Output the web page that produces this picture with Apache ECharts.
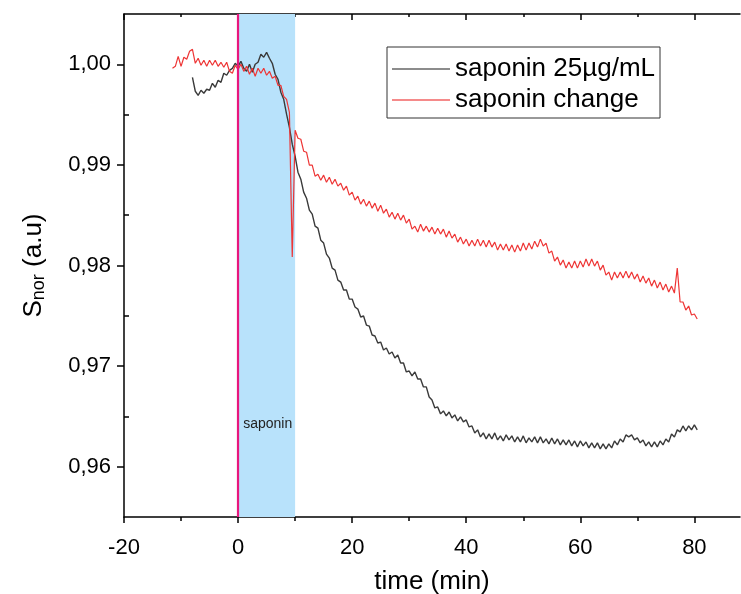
<!DOCTYPE html>
<html>
<head>
<meta charset="utf-8">
<script src="https://cdn.jsdelivr.net/npm/echarts@6/dist/echarts.min.js"></script>
<style>
  html, body { margin: 0; padding: 0; background: #fff; }
  #chart { width: 741px; height: 594px; }
</style>
</head>
<body>
<div id="chart"></div>
<script>
// Normalised signal S_nor versus time; saponin added during 0–10 min.
const xMajorTicks = [-20, 0, 20, 40, 60, 80];
const xMinorTicks = [-10, 10, 30, 50, 70];
const yMajorTicks = [0.96, 0.97, 0.98, 0.99, 1.00];
const yMinorTicks = [0.965, 0.975, 0.985, 0.995];

const seriesNames = ['saponin 25µg/mL', 'saponin change'];

// Sampling: one reading every 0.5 min, starting at the given time.
const blackStart = -8.0;
const redStart = -11.5;
const sampleStep = 0.5;

const blackValues = [
  0.99871, 0.99732, 0.99692, 0.99742, 0.99712, 0.99752, 0.99742, 0.99811, 0.99772, 0.99841,
  0.99821, 0.99911, 0.99891, 0.99940, 0.99960, 1.00010, 0.99980, 1.00030, 0.99960, 0.99930,
  1.00000, 0.99921, 1.00000, 1.00020, 1.00099, 1.00070, 1.00119, 1.00060, 1.00010, 0.99901,
  0.99851, 0.99722, 0.99652, 0.99504, 0.99374, 0.99206, 0.99086, 0.98928, 0.98858, 0.98729,
  0.98669, 0.98550, 0.98511, 0.98391, 0.98371, 0.98252, 0.98223, 0.98113, 0.98074, 0.97974,
  0.97954, 0.97855, 0.97835, 0.97756, 0.97756, 0.97666, 0.97666, 0.97587, 0.97567, 0.97488,
  0.97498, 0.97408, 0.97398, 0.97309, 0.97299, 0.97230, 0.97239, 0.97160, 0.97180, 0.97120,
  0.97140, 0.97081, 0.97110, 0.97031, 0.97031, 0.96942, 0.96951, 0.96902, 0.96942, 0.96872,
  0.96872, 0.96793, 0.96793, 0.96693, 0.96664, 0.96584, 0.96594, 0.96525, 0.96554, 0.96505,
  0.96544, 0.96485, 0.96515, 0.96455, 0.96495, 0.96445, 0.96465, 0.96395, 0.96405, 0.96336,
  0.96366, 0.96296, 0.96336, 0.96276, 0.96326, 0.96276, 0.96336, 0.96266, 0.96306, 0.96256,
  0.96316, 0.96266, 0.96306, 0.96246, 0.96296, 0.96246, 0.96306, 0.96237, 0.96286, 0.96246,
  0.96296, 0.96237, 0.96296, 0.96237, 0.96276, 0.96227, 0.96286, 0.96227, 0.96276, 0.96217,
  0.96266, 0.96217, 0.96266, 0.96207, 0.96256, 0.96197, 0.96256, 0.96207, 0.96246, 0.96187,
  0.96237, 0.96187, 0.96237, 0.96177, 0.96227, 0.96177, 0.96227, 0.96187, 0.96256, 0.96217,
  0.96276, 0.96246, 0.96316, 0.96296, 0.96316, 0.96266, 0.96286, 0.96237, 0.96266, 0.96207,
  0.96246, 0.96197, 0.96246, 0.96197, 0.96256, 0.96217, 0.96276, 0.96246, 0.96326, 0.96296,
  0.96366, 0.96346, 0.96405, 0.96356, 0.96405, 0.96366, 0.96415, 0.96366
];

const redValues = [
  0.99960, 0.99980, 1.00079, 0.99980, 1.00070, 1.00050, 1.00129, 1.00149, 1.00010, 1.00060,
  0.99990, 1.00040, 0.99980, 1.00040, 0.99990, 1.00040, 0.99980, 1.00020, 0.99970, 1.00020,
  0.99930, 0.99911, 0.99990, 0.99950, 1.00000, 0.99930, 0.99980, 0.99901, 0.99960, 0.99881,
  0.99960, 0.99911, 0.99960, 0.99891, 0.99930, 0.99861, 0.99881, 0.99791, 0.99791, 0.99682,
  0.99652, 0.99523, 0.98084, 0.99345, 0.99265, 0.99255, 0.99136, 0.99126, 0.98997, 0.98997,
  0.98888, 0.98908, 0.98848, 0.98898, 0.98828, 0.98878, 0.98808, 0.98858, 0.98789, 0.98818,
  0.98749, 0.98789, 0.98699, 0.98729, 0.98650, 0.98689, 0.98610, 0.98659, 0.98590, 0.98640,
  0.98570, 0.98620, 0.98540, 0.98600, 0.98520, 0.98560, 0.98481, 0.98530, 0.98461, 0.98520,
  0.98451, 0.98501, 0.98421, 0.98461, 0.98362, 0.98391, 0.98332, 0.98411, 0.98342, 0.98391,
  0.98332, 0.98381, 0.98312, 0.98371, 0.98312, 0.98362, 0.98282, 0.98342, 0.98272, 0.98312,
  0.98232, 0.98282, 0.98213, 0.98262, 0.98193, 0.98252, 0.98193, 0.98262, 0.98193, 0.98252,
  0.98183, 0.98252, 0.98183, 0.98232, 0.98153, 0.98213, 0.98153, 0.98213, 0.98143, 0.98203,
  0.98133, 0.98203, 0.98143, 0.98223, 0.98153, 0.98223, 0.98163, 0.98242, 0.98183, 0.98262,
  0.98193, 0.98223, 0.98123, 0.98143, 0.98044, 0.98084, 0.98004, 0.98054, 0.97974, 0.98034,
  0.97974, 0.98044, 0.97974, 0.98044, 0.97984, 0.98064, 0.97994, 0.98064, 0.97994, 0.98044,
  0.97954, 0.98004, 0.97905, 0.97935, 0.97855, 0.97935, 0.97875, 0.97935, 0.97875, 0.97944,
  0.97875, 0.97935, 0.97865, 0.97915, 0.97835, 0.97895, 0.97825, 0.97875, 0.97795, 0.97855,
  0.97776, 0.97835, 0.97756, 0.97815, 0.97736, 0.97795, 0.97726, 0.97974, 0.97637, 0.97637,
  0.97557, 0.97597, 0.97508, 0.97518, 0.97468
];

// Injection window and its label
const injectionStart = 0;
const injectionEnd = 10;
const injectionLabel = 'saponin';

function toPairs(start, values) {
  return values.map((v, i) => [start + i * sampleStep, v]);
}

const FONT = '"Liberation Sans", Arial, sans-serif';
const fmtComma = v => v.toFixed(2).replace('.', ',');

const chart = echarts.init(document.getElementById('chart'), null, { renderer: 'canvas' });

const xRange = { min: -20, max: 88 };
const yRange = { min: 0.955, max: 1.005 };
const tickLine = { color: '#000', width: 1.5 };

chart.setOption({
  animation: false,
  backgroundColor: '#fff',
  grid: { left: 124, right: 1, top: 14, bottom: 77, containLabel: false, outerBoundsMode: 'none' },
  legend: {
    orient: 'vertical',
    left: 387,
    top: 47,
    padding: [8, 5, 4, 5],
    itemGap: 3,
    itemWidth: 58,
    itemHeight: 2,
    icon: 'rect',
    borderColor: '#333',
    borderWidth: 1,
    textStyle: { fontFamily: FONT, fontSize: 26, color: '#000', lineHeight: 28 },
    data: [
      { name: seriesNames[0], itemStyle: { color: '#8c8c8c' } },
      { name: seriesNames[1], itemStyle: { color: '#f58a8a' } }
    ]
  },
  xAxis: [
    {
      type: 'value', position: 'bottom', ...xRange,
      axisLine: { show: true, onZero: false, lineStyle: tickLine },
      axisTick: { show: true, inside: false, length: 6, customValues: xMajorTicks, lineStyle: tickLine },
      axisLabel: { show: true, customValues: xMajorTicks, margin: 20, fontFamily: FONT, fontSize: 22, color: '#000' },
      splitLine: { show: false },
      name: 'time (min)', nameLocation: 'middle', nameGap: 52,
      nameTextStyle: { fontFamily: FONT, fontSize: 26, color: '#000' }
    },
    {
      type: 'value', position: 'bottom', ...xRange,
      axisLine: { show: false, onZero: false },
      axisTick: { show: true, inside: false, length: 4, customValues: xMinorTicks, lineStyle: tickLine },
      axisLabel: { show: false },
      splitLine: { show: false }
    },
    {
      type: 'value', position: 'top', ...xRange,
      axisLine: { show: true, onZero: false, lineStyle: tickLine },
      axisTick: { show: true, inside: true, length: 6, customValues: xMajorTicks, lineStyle: tickLine },
      axisLabel: { show: false },
      splitLine: { show: false }
    },
    {
      type: 'value', position: 'top', ...xRange,
      axisLine: { show: false, onZero: false },
      axisTick: { show: true, inside: true, length: 3, customValues: xMinorTicks, lineStyle: tickLine },
      axisLabel: { show: false },
      splitLine: { show: false }
    }
  ],
  yAxis: [
    {
      type: 'value', position: 'left', ...yRange,
      axisLine: { show: true, onZero: false, lineStyle: tickLine },
      axisTick: { show: true, inside: false, length: 7, customValues: yMajorTicks, lineStyle: tickLine },
      axisLabel: { show: true, customValues: yMajorTicks, margin: 13, formatter: fmtComma, fontFamily: FONT, fontSize: 22, color: '#000' },
      splitLine: { show: false },
      name: '{m|S}{s|nor}{m| (a.u)}', nameLocation: 'middle', nameGap: 76, nameRotate: 90,
      nameTextStyle: {
        fontFamily: FONT, color: '#000',
        rich: {
          m: { fontFamily: FONT, fontSize: 26, color: '#000' },
          s: { fontFamily: FONT, fontSize: 18, color: '#000', verticalAlign: 'bottom', padding: [10, 0, 0, 0] }
        }
      }
    },
    {
      type: 'value', position: 'left', ...yRange,
      axisLine: { show: false, onZero: false },
      axisTick: { show: true, inside: true, length: 5, customValues: yMinorTicks, lineStyle: tickLine },
      axisLabel: { show: false },
      splitLine: { show: false }
    }
  ],
  series: [
    {
      name: seriesNames[0],
      type: 'line',
      xAxisIndex: 0, yAxisIndex: 0,
      data: toPairs(blackStart, blackValues),
      showSymbol: false,
      lineStyle: { color: '#3a3a3a', width: 1.4 },
      itemStyle: { color: '#3a3a3a' },
      z: 3,
      markArea: {
        silent: true,
        itemStyle: { color: '#b8e2fb' },
        label: {
          show: true, position: ['52%', '81.5%'], align: 'center', verticalAlign: 'middle',
          fontFamily: FONT, fontSize: 14, color: '#222'
        },
        data: [[{ name: injectionLabel, xAxis: injectionStart }, { xAxis: injectionEnd }]]
      }
    },
    {
      name: seriesNames[1],
      type: 'line',
      xAxisIndex: 0, yAxisIndex: 0,
      data: toPairs(redStart, redValues),
      showSymbol: false,
      lineStyle: { color: '#ee3535', width: 1.2 },
      itemStyle: { color: '#ee3535' },
      z: 4,
      markLine: {
        silent: true,
        symbol: 'none',
        label: { show: false },
        lineStyle: { color: '#e8177d', width: 2.2, type: 'solid' },
        data: [{ xAxis: injectionStart }]
      }
    }
  ]
});
</script>
</body>
</html>
